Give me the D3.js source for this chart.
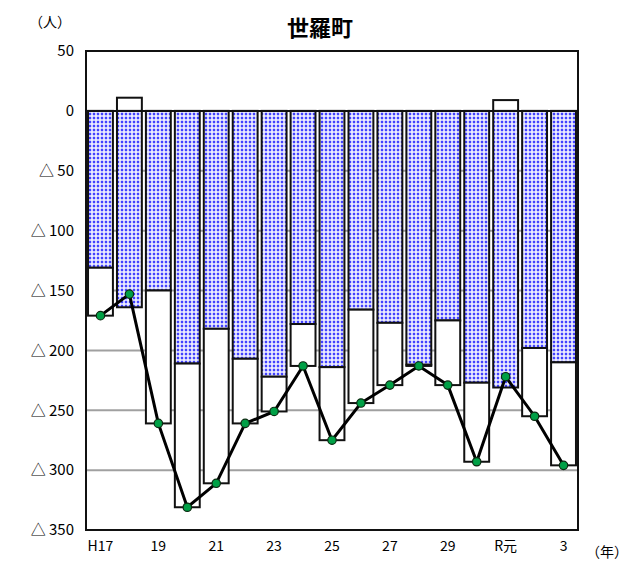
<!DOCTYPE html>
<html>
<head>
<meta charset="utf-8">
<script src="https://cdn.jsdelivr.net/npm/d3@7"></script>
<style>
  html, body { margin: 0; padding: 0; background: #fff; }
  svg { display: block; }
  text { font-family: "Noto Sans CJK JP", "Noto Sans", sans-serif; fill: #000; }
</style>
</head>
<body>
<svg id="chart" width="638" height="563"></svg>
<script>
// 世羅町 人口動態（自然増減・社会増減・人口増減）
const years   = ["H17","18","19","20","21","22","23","24","25","26","27","28","29","30","R元","2","3"];
const natural = [-131,-164,-150,-211,-182,-207,-222,-178,-214,-166,-177,-212,-175,-227,-231,-198,-210];
const social  = [-40, 11,-111,-120,-129,-54,-29,-35,-61,-78,-52,-1,-54,-66, 9,-57,-86];
const total   = [-171,-153,-261,-331,-311,-261,-251,-213,-275,-244,-229,-213,-229,-293,-222,-255,-296];
const yTicks  = [50, 0, -50, -100, -150, -200, -250, -300, -350];
const xShown  = ["H17","19","21","23","25","27","29","R元","3"];

const svg = d3.select("#chart");
const plot = { left: 86, right: 578, top: 51, bottom: 530 };

const x = d3.scaleBand().domain(years).range([plot.left, plot.right]).paddingInner(0.14).paddingOuter(0.07);
const y = d3.scaleLinear().domain([-350, 50]).range([plot.bottom, plot.top]);

// dotted fill for the natural change bars
const defs = svg.append("defs");
const pat = defs.append("pattern").attr("id", "dots").attr("patternUnits", "userSpaceOnUse")
  .attr("width", 4).attr("height", 4);
pat.append("rect").attr("width", 4).attr("height", 4).attr("fill", "#f2f2ff");
pat.append("circle").attr("cx", 2).attr("cy", 2).attr("r", 1.65).attr("fill", "#a4a4ff");
pat.append("circle").attr("cx", 2).attr("cy", 2).attr("r", 1.0).attr("fill", "#2020ff");

// horizontal grid
svg.append("g").selectAll("line").data(yTicks.filter(v => v < 0 && v > -350)).join("line")
  .attr("x1", plot.left).attr("x2", plot.right)
  .attr("y1", d => y(d)).attr("y2", d => y(d))
  .attr("stroke", "#a0a0a0").attr("stroke-width", 2);

// natural change bars
svg.append("g").selectAll("rect").data(years).join("rect")
  .attr("x", d => x(d)).attr("width", x.bandwidth())
  .attr("y", y(0)).attr("height", (d, i) => y(natural[i]) - y(0))
  .attr("fill", "url(#dots)").attr("stroke", "#111").attr("stroke-width", 2);

// social change bars (stacked below natural change, or above zero when positive)
svg.append("g").selectAll("rect").data(years).join("rect")
  .attr("x", d => x(d)).attr("width", x.bandwidth())
  .attr("y", (d, i) => social[i] >= 0 ? y(social[i]) : y(natural[i]))
  .attr("height", (d, i) => social[i] >= 0 ? y(0) - y(social[i]) : y(total[i]) - y(natural[i]))
  .attr("fill", "#fff").attr("stroke", "#111").attr("stroke-width", 2);

// zero line
svg.append("line").attr("x1", plot.left).attr("x2", plot.right)
  .attr("y1", y(0)).attr("y2", y(0)).attr("stroke", "#111").attr("stroke-width", 2);

// plot frame
svg.append("rect").attr("x", plot.left).attr("y", plot.top)
  .attr("width", plot.right - plot.left).attr("height", plot.bottom - plot.top)
  .attr("fill", "none").attr("stroke", "#111").attr("stroke-width", 2);

// total change line with markers
const cx = d => x(d) + x.bandwidth() / 2;
svg.append("path").datum(years)
  .attr("d", d3.line().x(d => cx(d)).y((d, i) => y(total[i])))
  .attr("fill", "none").attr("stroke", "#000").attr("stroke-width", 3);
svg.append("g").selectAll("circle").data(years).join("circle")
  .attr("cx", d => cx(d)).attr("cy", (d, i) => y(total[i])).attr("r", 4.2)
  .attr("fill", "#00a046").attr("stroke", "#0a2a10").attr("stroke-width", 1.2);

// y axis labels: negative values are written with a leading △
const yAxis = d3.axisLeft(y).tickValues(yTicks).tickSize(0).tickPadding(0).tickFormat(() => "");
const gy = svg.append("g").attr("transform", `translate(${plot.left - 12},0)`).call(yAxis);
gy.select(".domain").remove();
gy.selectAll(".tick text").each(function(v) {
  const t = d3.select(this).attr("font-size", 15).attr("font-family", "'Liberation Sans', Arial, sans-serif");
  if (v < 0) {
    t.append("tspan").attr("font-family", "'Noto Sans CJK JP', sans-serif").text("△");
    t.append("tspan").text(" " + Math.abs(v));
  } else {
    t.text(String(v));
  }
});

// x axis labels
const xAxis = d3.axisBottom(x).tickValues(xShown).tickSize(0).tickPadding(0);
const gx = svg.append("g").attr("transform", `translate(0,${plot.bottom + 11})`).call(xAxis);
gx.select(".domain").remove();
gx.selectAll("text").attr("font-size", 14).attr("font-family", "'Liberation Sans', Arial, sans-serif");
gx.selectAll("text").filter(d => d === "R元").attr("font-family", "'Noto Sans CJK JP', sans-serif");

// titles and unit labels
svg.append("text").attr("x", 320).attr("y", 36).attr("text-anchor", "middle")
  .attr("font-size", 22).attr("font-weight", 700).text("世羅町");
svg.append("text").attr("x", 50).attr("y", 27).attr("text-anchor", "middle")
  .attr("font-size", 14).attr("fill", "#333").text("（人）");
svg.append("text").attr("x", 607).attr("y", 557).attr("text-anchor", "middle")
  .attr("font-size", 14).attr("fill", "#333").text("（年）");
</script>
</body>
</html>
